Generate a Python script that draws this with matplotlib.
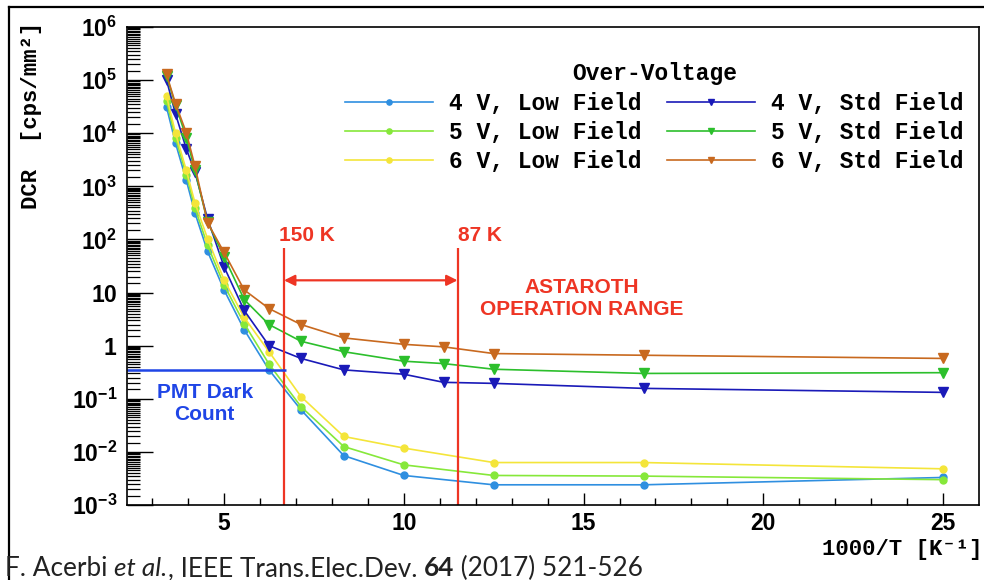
import numpy as np
import matplotlib
matplotlib.use("Agg")
import matplotlib.pyplot as plt
from matplotlib.lines import Line2D
from matplotlib.ticker import FixedLocator, NullFormatter, LogLocator

plt.rcParams["mathtext.fontset"] = "custom"
plt.rcParams["mathtext.rm"] = "Liberation Sans"
plt.rcParams["mathtext.bf"] = "Liberation Sans:bold"
plt.rcParams["font.family"] = ["Liberation Sans", "DejaVu Sans"]

# ---- data: dark count rate vs inverse temperature ----
inv_T_std = [3.40, 3.65, 3.95, 4.19, 4.54, 5.00, 5.56, 6.25, 7.14, 8.33, 10.0, 11.11, 12.5, 16.67, 25.0]
inv_T_low = [3.40, 3.65, 3.95, 4.19, 4.54, 5.00, 5.56, 6.25, 7.14, 8.33, 10.0, 12.5, 16.67, 25.0]

dcr_4v_low = [3.1e4, 6.5e3, 1.3e3, 316, 60, 11.2, 2.0, 0.35, 0.062, 0.0085, 0.0036, 0.0024, 0.0024, 0.0033]
dcr_5v_low = [4.0e4, 8.1e3, 1.67e3, 390, 78, 13.9, 2.6, 0.45, 0.071, 0.0126, 0.0057, 0.0036, 0.0035, 0.0030]
dcr_6v_low = [5.0e4, 1.0e4, 2.0e3, 490, 104, 17.3, 3.4, 0.77, 0.11, 0.0195, 0.0118, 0.0063, 0.0063, 0.0048]

dcr_4v_std = [1.0e5, 2.3e4, 5.1e3, 1.85e3, 246, 30.6, 4.6, 1.0, 0.575, 0.35, 0.29, 0.204, 0.195, 0.157, 0.132]
dcr_5v_std = [1.2e5, 3.4e4, 8.3e3, 2.0e3, 215, 47, 7.4, 2.5, 1.21, 0.77, 0.51, 0.46, 0.36, 0.30, 0.31]
dcr_6v_std = [1.28e5, 3.6e4, 1.02e4, 2.4e3, 208, 57, 11.2, 5.0, 2.5, 1.4, 1.06, 0.95, 0.71, 0.66, 0.575]

labels_low = ["4 V, Low Field", "5 V, Low Field", "6 V, Low Field"]
labels_std = ["4 V, Std Field", "5 V, Std Field", "6 V, Std Field"]
colors_low = ["#2f8fe0", "#86e83a", "#f4e53a"]
colors_std = ["#1a1ab8", "#2cbf2c", "#c8691f"]

range_temps = [150, 87]          # K, operating range limits
pmt_dark_count = 0.35            # cps/mm^2

y_ticks = [1e-3, 1e-2, 1e-1, 1, 10, 1e2, 1e3, 1e4, 1e5, 1e6]
y_tick_labels = [r"$\mathbf{10^{-3}}$", r"$\mathbf{10^{-2}}$", r"$\mathbf{10^{-1}}$",
                 r"$\mathbf{1}$", r"$\mathbf{10}$", r"$\mathbf{10^{2}}$", r"$\mathbf{10^{3}}$",
                 r"$\mathbf{10^{4}}$", r"$\mathbf{10^{5}}$", r"$\mathbf{10^{6}}$"]
x_ticks = [5, 10, 15, 20, 25]

RED = "#ee3524"
BLUE = "#1f45e6"
MONO = ["Liberation Mono", "DejaVu Sans Mono"]

W, H = 984, 580
fig = plt.figure(figsize=(W / 100, H / 100), dpi=100)
ax = fig.add_axes([127 / W, 1 - 505 / H, (979 - 127) / W, (505 - 27) / H])

handles = []
for ys, c, lab in zip([dcr_4v_low, dcr_5v_low, dcr_6v_low], colors_low, labels_low):
    h, = ax.plot(inv_T_low, ys, color=c, lw=1.2, marker="o", ms=5, label=lab)
    handles.append(h)
for ys, c, lab in zip([dcr_4v_std, dcr_5v_std, dcr_6v_std], colors_std, labels_std):
    h, = ax.plot(inv_T_std, ys, color=c, lw=1.2, marker="v", ms=6.5, label=lab)
    handles.append(h)

ax.set_yscale("log")
ax.set_xlim(2.3, 26)
ax.set_ylim(1e-3, 1e6)

ax.yaxis.set_major_locator(FixedLocator(y_ticks))
ax.set_yticklabels(y_tick_labels, fontsize=16.5)
ax.yaxis.set_minor_locator(LogLocator(base=10, subs=np.arange(1.5, 10, 0.5), numticks=20))
ax.yaxis.set_minor_formatter(NullFormatter())
ax.set_xticks(x_ticks)
ax.set_xticklabels([str(v) for v in x_ticks], fontsize=16.5, fontweight="bold")
ax.xaxis.set_minor_locator(FixedLocator(np.arange(3, 26, 1)))

ax.tick_params(axis="y", which="major", direction="in", length=19, width=1.0, pad=7,
               left=True, right=False)
ax.tick_params(axis="y", which="minor", direction="in", length=9, width=0.9, left=True, right=False)
ax.tick_params(axis="x", which="major", direction="in", length=9, width=1.0, pad=5,
               bottom=True, top=False)
ax.tick_params(axis="x", which="minor", direction="in", length=4.8, width=1.0, bottom=True, top=False)
for s in ax.spines.values():
    s.set_linewidth(1.2)

# operating range markers
x150, x87 = 1000 / range_temps[0], 1000 / range_temps[1]
for xv, txt, dx in [(x150, "150 K", -0.15), (x87, "87 K", 0.0)]:
    ax.plot([xv, xv], [1e-3, 68], color=RED, lw=1.6, solid_capstyle="butt")
    ax.text(xv + dx, 80, txt, color=RED, fontsize=15, fontweight="bold", ha="left", va="bottom")
ax.annotate("", xy=(x87, 17), xytext=(x150, 17),
            arrowprops=dict(arrowstyle="<|-|>", color=RED, lw=1.6, mutation_scale=16,
                            shrinkA=0, shrinkB=0))
ax.text(14.94, 7.8, "ASTAROTH\nOPERATION RANGE", color=RED, fontsize=15, fontweight="bold",
        ha="center", va="center", linespacing=1.2)

# PMT dark count level
ax.plot([2.3, 6.72], [pmt_dark_count, pmt_dark_count], color=BLUE, lw=1.8, solid_capstyle="butt")
ax.text(4.46, 0.082, "PMT Dark\nCount", color=BLUE, fontsize=15, fontweight="bold",
        ha="center", va="center", linespacing=1.2)

# legend
leg = ax.legend(handles=handles, ncol=2, frameon=False, loc="upper left",
                bbox_to_anchor=(334 / W, 1 - 51 / H), bbox_transform=fig.transFigure,
                borderpad=0, handlelength=3.8, handletextpad=0.7, columnspacing=1.15,
                labelspacing=0.27, markerscale=0.75, title="Over-Voltage",
                prop=dict(family=MONO, weight="bold", size=16.5))
leg.get_title().set_fontproperties(dict(family=MONO, weight="bold", size=16.5))

# axis titles
fig.text(32 / W, 1 - 22 / H, "DCR  [cps/mm²]", rotation=90, ha="center", va="top",
         family=MONO, fontweight="bold", fontsize=16)
fig.text(982 / W, 1 - 555 / H, "1000/T [K⁻¹]", ha="right", va="baseline",
         family=MONO, fontweight="bold", fontsize=16)

# outer frame
fig.add_artist(Line2D([9 / W, 9 / W], [0, 1 - 7 / H], transform=fig.transFigure, color="black", lw=1.6))
fig.add_artist(Line2D([9 / W, 1], [1 - 7 / H, 1 - 7 / H], transform=fig.transFigure, color="black", lw=1.6))

# reference caption
fig.canvas.draw()
renderer = fig.canvas.get_renderer()
pieces = [("F. Acerbi ", "normal", "normal"), ("et al.", "italic", "normal"),
          (", IEEE Trans.Elec.Dev. ", "normal", "normal"), ("64", "normal", "bold"),
          (" (2017) 521-526", "normal", "normal")]
x_px = 5
for txt, style, weight in pieces:
    t = fig.text(x_px / W, 4 / H, txt, ha="left", va="baseline", family=["Lato", "DejaVu Sans"],
                 fontsize=18.8, style=style, fontweight=weight, color="#222222")
    bb = t.get_window_extent(renderer)
    x_px += bb.width

fig.savefig("out.png", dpi=100)
